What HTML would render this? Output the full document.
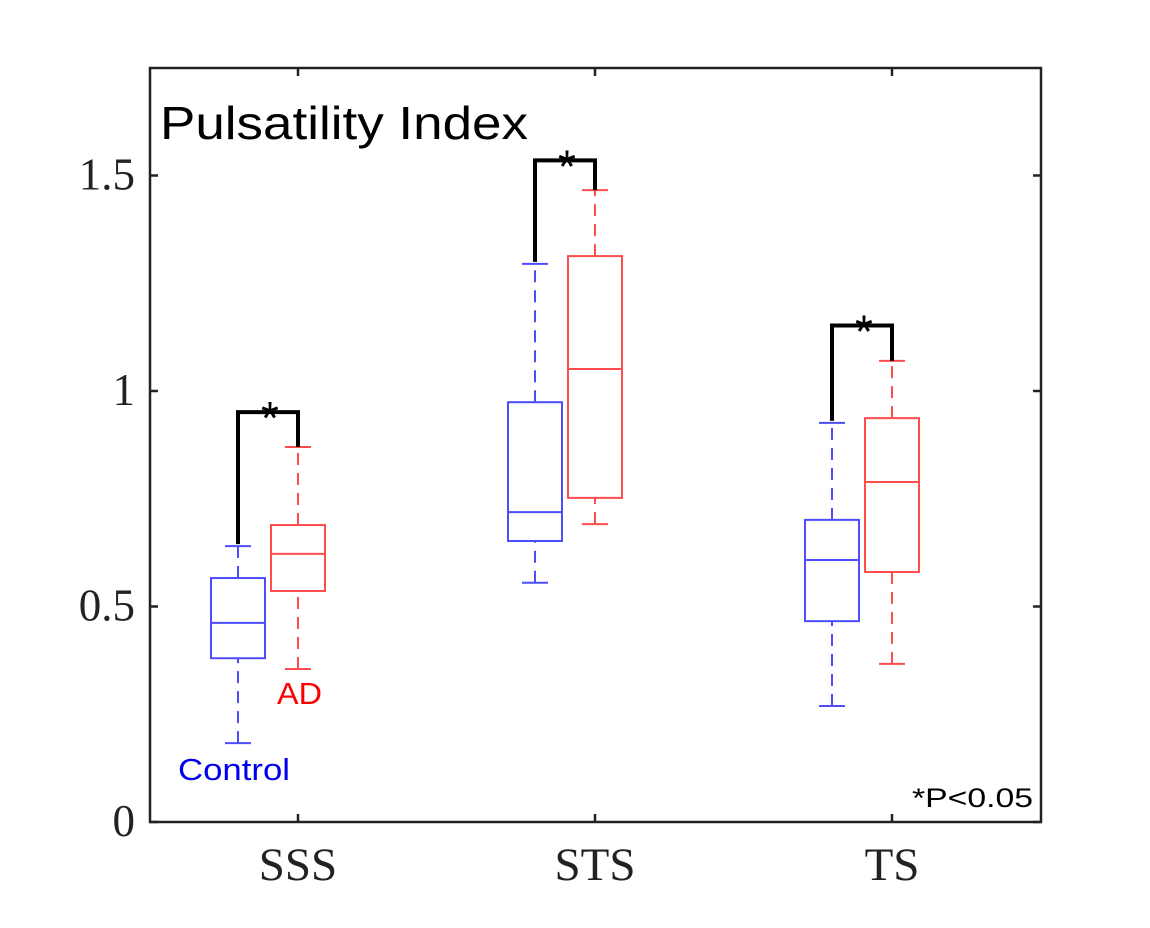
<!DOCTYPE html>
<html><head><meta charset="utf-8"><style>
body{margin:0;background:#fff;width:1150px;height:923px;overflow:hidden}
svg text{font-family:"Liberation Sans",sans-serif}
.serif{font-family:"Liberation Serif",serif!important}
</style></head><body>
<svg id="chart" width="1150" height="923" xmlns="http://www.w3.org/2000/svg">
<rect x="150" y="68" width="891" height="754" fill="none" stroke="#222" stroke-width="2.5"/>
<g id="ticks"></g>
<g id="boxes"></g>
<text x="160" y="139" font-size="46" textLength="368" lengthAdjust="spacingAndGlyphs">Pulsatility Index</text>
<text x="178" y="780" font-size="31" fill="#0000ee" textLength="112" lengthAdjust="spacingAndGlyphs">Control</text>
<text x="277" y="704" font-size="31" fill="#ff0000" textLength="45" lengthAdjust="spacingAndGlyphs">AD</text>
<text x="912" y="807" font-size="27" textLength="121" lengthAdjust="spacingAndGlyphs">*P&lt;0.05</text>
</svg>
<script>
const categories=["SSS","STS","TS"];
const controlStats=[[0.183,0.38,0.462,0.566,0.64],[0.555,0.652,0.719,0.974,1.295],[0.269,0.466,0.608,0.701,0.926]];
const adStats=[[0.355,0.536,0.622,0.689,0.87],[0.691,0.752,1.051,1.313,1.466],[0.367,0.58,0.789,0.937,1.07]];
const bracketTops=[0.951,1.535,1.152];
const yTicks=[0,0.5,1,1.5];
const yTickLabels=["0","0.5","1","1.5"];
const NS="http://www.w3.org/2000/svg";
const y=v=>822-v*431;
const x=i=>298+i*297;
function mk(t,a,p){const e=document.createElementNS(NS,t);for(const k in a)e.setAttribute(k,a[k]);p.appendChild(e);return e;}
const tg=document.getElementById('ticks');
yTicks.forEach((v,i)=>{
 const l=mk('line',{x1:150,x2:158,y1:y(v),y2:y(v),stroke:'#222','stroke-width':2.5},tg);
 
 
 const r=mk('line',{x1:1033,x2:1041,y1:y(v),y2:y(v),stroke:'#222','stroke-width':2.5},tg);
 
 
 const t=mk('text',{x:135,y:y(v)+14,'font-size':45,'text-anchor':'end',class:'serif',fill:'#222'},tg);
 t.textContent=yTickLabels[i];
 
 
});
categories.forEach((c,i)=>{
 const l=mk('line',{x1:x(i),x2:x(i),y1:822,y2:814,stroke:'#222','stroke-width':2.5},tg);
 
 
 const u=mk('line',{x1:x(i),x2:x(i),y1:68,y2:76,stroke:'#222','stroke-width':2.5},tg);
 
 
 const t=mk('text',{x:x(i),y:880,'font-size':47,'text-anchor':'middle',class:'serif',fill:'#222'},tg);
 t.textContent=c;
 
 
});
const bg=document.getElementById('boxes');
function box(cx,s,col,name){
 const g=mk('g',{stroke:col,'stroke-width':2,fill:'none'},bg);
 
 
 mk('line',{x1:cx,x2:cx,y1:y(s[0]),y2:y(s[1]),'stroke-dasharray':'12,8'},g);
 mk('line',{x1:cx,x2:cx,y1:y(s[3]),y2:y(s[4]),'stroke-dasharray':'12,8'},g);
 mk('line',{x1:cx-13,x2:cx+13,y1:y(s[0]),y2:y(s[0])},g);
 mk('line',{x1:cx-13,x2:cx+13,y1:y(s[4]),y2:y(s[4])},g);
 mk('rect',{x:cx-27,y:y(s[3]),width:54,height:y(s[1])-y(s[3])},g);
 mk('line',{x1:cx-27,x2:cx+27,y1:y(s[2]),y2:y(s[2])},g);
}
categories.forEach((c,i)=>{
 box(x(i)-60,controlStats[i],'#4d4dff','control-box-'+c.toLowerCase());
 box(x(i),adStats[i],'#ff4d4d','ad-box-'+c.toLowerCase());
 const b=mk('path',{d:`M${x(i)-60},${y(controlStats[i][4])-2} V${y(bracketTops[i])} H${x(i)} V${y(adStats[i][4])}`,stroke:'#000','stroke-width':4,fill:'none'},bg);
 
 
 const s=mk('text',{x:x(i)-28,y:y(bracketTops[i])+22,'font-size':46,'text-anchor':'middle'},bg);
 s.textContent='*';
 
 
});
</script>
</body></html>
